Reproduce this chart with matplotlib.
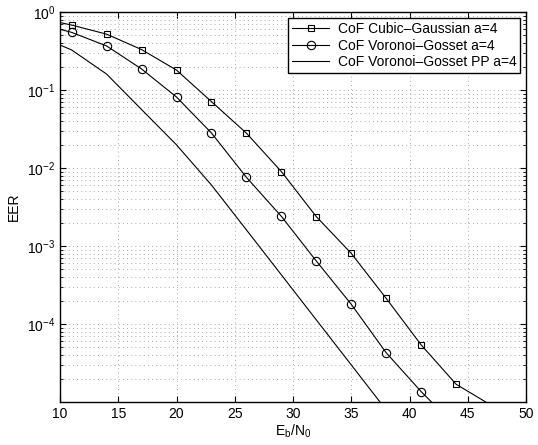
import matplotlib
matplotlib.use('Agg')
import matplotlib.pyplot as plt
from matplotlib.ticker import LogLocator, LogFormatterMathtext, NullFormatter

plt.rcParams['font.family'] = ['Liberation Sans', 'DejaVu Sans']
plt.rcParams['font.size'] = 10
plt.rcParams['mathtext.default'] = 'regular'

# Eb/N0 points (first point lies left of the visible range)
snr_cubic = [8, 11, 14, 17, 20, 23, 26, 29, 32, 35, 38, 41, 44, 47]
eer_cubic = [0.85, 0.68, 0.52, 0.33, 0.18, 0.071, 0.028, 0.0090, 0.00238,
             8.05e-4, 2.13e-4, 5.4e-5, 1.69e-5, 9.1e-6]

snr_voronoi = [8, 11, 14, 17, 20, 23, 26, 29, 32, 35, 38, 41, 44]
eer_voronoi = [0.72, 0.548, 0.367, 0.186, 0.0813, 0.0281, 0.0076, 0.00240,
               6.42e-4, 1.79e-4, 4.28e-5, 1.36e-5, 4.8e-6]

snr_pp = [8, 11, 14, 17, 20, 23, 26, 29, 32, 35, 38]
eer_pp = [0.507, 0.326, 0.160, 0.0562, 0.0198, 0.00605, 0.00161, 4.27e-4,
          1.13e-4, 2.99e-5, 7.9e-6]

labels = ['CoF Cubic\u2013Gaussian a=4', 'CoF Voronoi\u2013Gosset a=4',
          'CoF Voronoi\u2013Gosset PP a=4']
xticks = [10, 15, 20, 25, 30, 35, 40, 45, 50]
yticks = [1e-4, 1e-3, 1e-2, 1e-1, 1e0]

fig = plt.figure(figsize=(5.38, 4.45), dpi=100)
ax = fig.add_axes([60/538, 1-402/445, 466/538, 390/445])

ax.semilogy(snr_cubic, eer_cubic, 'k-s', lw=0.8, ms=5, mfc='none', mew=0.8,
            markevery=slice(1, -1), label=labels[0])
ax.semilogy(snr_voronoi, eer_voronoi, 'k-o', lw=0.8, ms=6, mfc='none', mew=0.8,
            markevery=slice(1, -1), label=labels[1])
ax.semilogy(snr_pp, eer_pp, 'k-', lw=0.8, label=labels[2])

ax.set_xlim(10, 50)
ax.set_ylim(1e-5, 1)
ax.set_xticks(xticks)
ax.set_yticks(yticks)
ax.yaxis.set_major_formatter(LogFormatterMathtext())
ax.yaxis.set_minor_locator(LogLocator(base=10, subs=range(2, 10), numticks=20))
ax.yaxis.set_minor_formatter(NullFormatter())

# matlab style dotted grid, light
ax.grid(True, which='major', color='0.55', linestyle=(0, (1, 4)), lw=0.6)
ax.grid(True, which='minor', axis='y', color='0.55', linestyle=(0, (1, 4)), lw=0.6)

ax.tick_params(which='both', direction='in', top=True, right=True, labelsize=10)
ax.tick_params(which='major', length=4)
ax.tick_params(which='minor', length=2)
for s in ax.spines.values():
    s.set_linewidth(1.0)

ax.set_xlabel('E$_b$/N$_0$', labelpad=1)
ax.set_ylabel('EER', labelpad=4)

leg = ax.legend(loc='upper right', numpoints=1, fancybox=False, framealpha=1,
                edgecolor='k', borderaxespad=0.4, handlelength=2.65,
                labelspacing=0.2, borderpad=0.3, handletextpad=0.6, fontsize=10)
leg.get_frame().set_linewidth(1.0)

fig.savefig('out.png', dpi=100)
